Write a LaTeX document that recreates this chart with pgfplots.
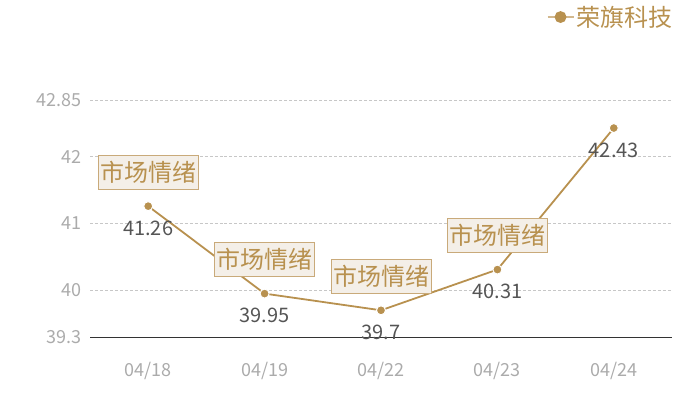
\documentclass[border=0pt]{standalone}
\usepackage{pgfplots}
\pgfplotsset{compat=1.18}
\usepackage{fontspec}
\setmainfont{Noto Sans CJK SC}
\definecolor{gold}{HTML}{B8914F}
\definecolor{goldlight}{HTML}{D2B88E}
\definecolor{boxfill}{HTML}{F4EFE8}
\definecolor{boxdraw}{HTML}{C9AA7A}
\definecolor{tickgray}{HTML}{ABABAB}
\definecolor{valgray}{HTML}{555555}
\definecolor{axisdark}{HTML}{333333}

\begin{document}
\begin{tikzpicture}
\begin{axis}[
  scale only axis, width=582bp, height=237bp,
  xmin=-0.5, xmax=4.5, ymin=39.3, ymax=42.85,
  clip=false,
  xtick={0,1,2,3,4},
  xticklabels={04/18,04/19,04/22,04/23,04/24},
  ytick={39.3,40,41,42,42.85},
  yticklabels={39.3,40,41,42,42.85},
  axis x line*=bottom, axis y line*=left,
  y axis line style={draw=none},
  x axis line style={color=axisdark, line width=1bp, -},
  major tick length=0pt,
  ymajorgrids,
  grid style={densely dashed, color=black!22, line width=0.6bp},
  tick label style={color=tickgray, font=\fontsize{18bp}{20bp}\selectfont},
  xticklabel style={yshift=-22bp},
  yticklabel style={xshift=-5bp},
  /pgf/number format/assume math mode=true,
  legend style={draw=none, fill=none, at={(axis description cs:1.004,1.35)},
    anchor=east, font=\fontsize{24bp}{26bp}\selectfont, text=gold, inner sep=0pt},
  legend image code/.code={
    \draw[goldlight, line width=1.2bp] (0bp,0bp) -- (26bp,0bp);
    \fill[gold] (13bp,0bp) circle (5bp);},
]
\addplot[color=gold, line width=1.8bp, mark=*, mark size=4.5bp,
  mark options={fill=gold, draw=white, line width=1bp},
  nodes near coords,
  every node near coord/.append style={anchor=center, yshift=-22bp,
    color=valgray, font=\fontsize{20bp}{22bp}\selectfont},
  /pgf/number format/precision=2]
  coordinates {(0,41.26) (1,39.95) (2,39.7) (3,40.31) (4,42.43)};
\addlegendentry{荣旗科技}
\addplot[draw=none, mark=none, forget plot,
  nodes near coords={市场情绪},
  every node near coord/.append style={anchor=center, yshift=34bp,
    fill=boxfill, draw=boxdraw, line width=1bp, text=gold,
    inner xsep=2bp, inner ysep=6bp,
    font=\fontsize{24bp}{26bp}\selectfont}]
  coordinates {(0,41.26) (1,39.95) (2,39.7) (3,40.31)};
\end{axis}
\path[use as bounding box] ([shift={(-90bp,-63bp)}]current axis.south west)
  rectangle ([shift={(28bp,100bp)}]current axis.north east);
\end{tikzpicture}
\end{document}
